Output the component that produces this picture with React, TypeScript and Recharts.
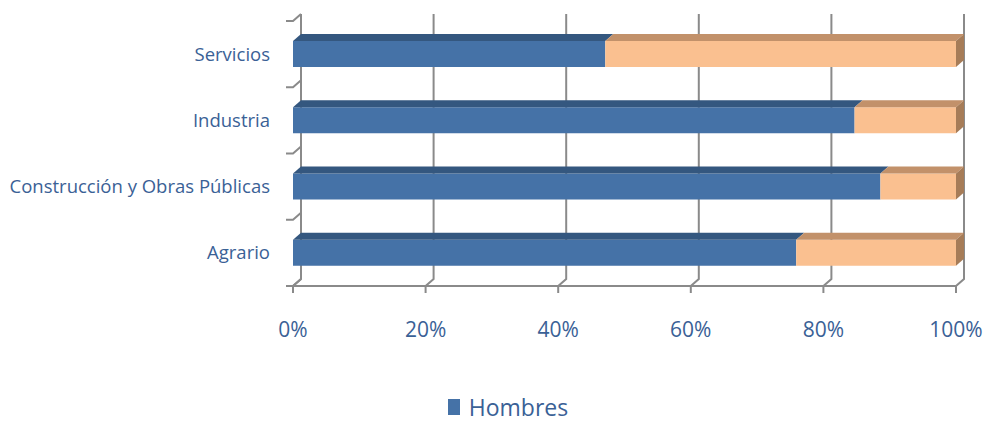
import React from "react";
import {
	BarChart,
	Bar,
	XAxis,
	YAxis,
	CartesianGrid,
	Legend
} from "recharts";

const sectores = ["Servicios", "Industria", "Construcción y Obras Públicas", "Agrario"];
const hombres = [47.1, 84.7, 88.6, 75.9];
const mujeres = [52.9, 15.3, 11.4, 24.1];
const ticksX = [0, 20, 40, 60, 80, 100];

const data = sectores.map((s, i) => ({ sector: s, Hombres: hombres[i], Mujeres: mujeres[i] }));

const DX = 8;
const DY = 7;
const GRID = "#8a8a8a";
const TEXT = "#3A6196";

const makeShape = (front: string, top: string, side: string | null) => (props: any) => {
	const { x, y, width, height } = props;
	if (width == null || width <= 0) return <g />;
	return (
		<g>
			<rect x={x} y={y} width={width} height={height} fill={front} />
			<polygon
				points={`${x},${y} ${x + DX},${y - DY} ${x + width + DX},${y - DY} ${x + width},${y}`}
				fill={top}
			/>
			{side && (
				<polygon
					points={`${x + width},${y} ${x + width + DX},${y - DY} ${x + width + DX},${y + height - DY} ${x + width},${y + height}`}
					fill={side}
				/>
			)}
		</g>
	);
};

const gridV = (p: any) => {
	const { x1, y1, y2 } = p;
	return (
		<path
			key={p.key}
			d={`M${x1 + DX},${y1 - DY} L${x1 + DX},${y2 - DY} L${x1},${y2}`}
			stroke={GRID}
			strokeWidth={2}
			fill="none"
		/>
	);
};

const gridH = (p: any) => {
	const { x1, y1 } = p;
	return (
		<path
			key={p.key}
			d={`M${x1 - 7},${y1} L${x1},${y1} L${x1 + DX},${y1 - DY}`}
			stroke={GRID}
			strokeWidth={2}
			fill="none"
		/>
	);
};

const legendContent = () => (
	<div
		style={{
			display: "flex",
			justifyContent: "center",
			alignItems: "center",
			height: 22,
			paddingTop: 8,
			paddingLeft: 60
		}}
	>
		<span style={{ display: "inline-block", width: 12, height: 16, background: "#4572A7", marginRight: 9 }} />
		<span style={{ fontFamily: "Open Sans", fontSize: 23, lineHeight: "22px", color: TEXT }}>Hombres</span>
	</div>
);

export default function App() {
	return (
		<div style={{ position: "absolute", left: 0, top: 0 }}>
			<BarChart
				width={988}
				height={423}
				data={data}
				layout="vertical"
				margin={{ top: 21, right: 32, bottom: 0, left: 0 }}
			>
				<CartesianGrid
					vertical={gridV}
					horizontal={gridH}
					horizontalCoordinatesGenerator={({ offset }: any) =>
						sectores.map((_, i) => offset.top + (i * offset.height) / sectores.length).concat(offset.top + offset.height)
					}
				/>
				<XAxis
					type="number"
					domain={[0, 100]}
					ticks={ticksX}
					tickFormatter={(v) => `${v}%`}
					axisLine={{ stroke: GRID, strokeWidth: 2 }}
					tickLine={{ stroke: GRID, strokeWidth: 2 }}
					tickSize={7}
					tickMargin={29}
					height={107}
					tick={{ fill: TEXT, fontSize: 21, fontFamily: "Open Sans" }}
				/>
				<YAxis
					type="category"
					dataKey="sector"
					width={293}
					axisLine={false}
					tickLine={false}
					tickSize={0}
					tickMargin={23}
					tick={{ fill: TEXT, fontSize: 18.5, fontFamily: "Open Sans" }}
				/>
				<Legend verticalAlign="bottom" content={legendContent} wrapperStyle={{ bottom: 5 }} />
				<Bar
					dataKey="Hombres"
					stackId="a"
					barSize={26}
					fill="#4572A7"
					shape={makeShape("#4572A7", "#34577F", null)}
					isAnimationActive={false}
				/>
				<Bar
					dataKey="Mujeres"
					stackId="a"
					barSize={26}
					fill="#FAC090"
					legendType="none"
					shape={makeShape("#FAC090", "#C2916A", "#A67C58")}
					isAnimationActive={false}
				/>
			</BarChart>
		</div>
	);
}
